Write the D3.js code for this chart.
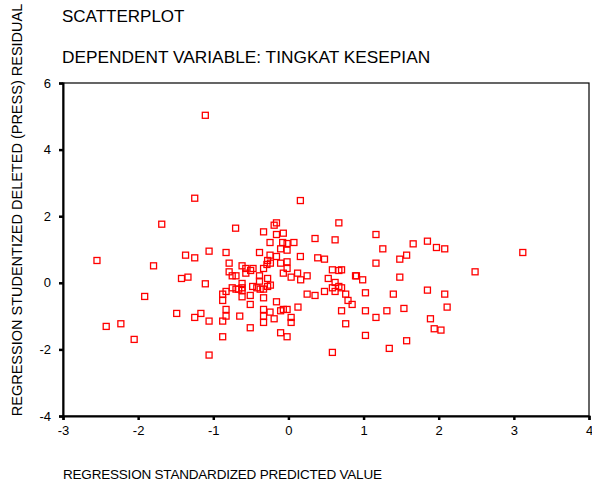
<!DOCTYPE html>
<html>
<head>
<meta charset="utf-8">
<script src="https://cdn.jsdelivr.net/npm/d3@7"></script>
<style>
	body { margin: 0; background: #fff; }
	text { font-family: "Liberation Sans", Arial, sans-serif; fill: #000; }
</style>
</head>
<body>
<div id="plot"><svg></svg></div>
<script>
var titleText = "SCATTERPLOT";
var subtitleText = "DEPENDENT VARIABLE: TINGKAT KESEPIAN";
var xLabelText = "REGRESSION STANDARDIZED PREDICTED VALUE";
var yLabelText = "REGRESSION STUDENTIZED DELETED (PRESS)  RESIDUAL";

var xTicks = [-3, -2, -1, 0, 1, 2, 3, 4];
var yTicks = [-4, -2, 0, 2, 4, 6];

// standardized predicted value
var predicted = [
	-1.106, -1.247, 0.159, -1.686, -0.703, -0.19, -0.159, 0.671, -0.331, -0.159,
	-0.068, 1.165, 0.354, 0.621, -0.245, -0.077, -0.018, 0.073, 1.85, 1.66,
	1.97, 2.08, 1.256, -0.104, -0.018, -2.548, -1.056, -0.83, -0.385, -1.369,
	-1.247, -0.245, -0.159, 0.159, 0.39, 0.48, 1.482, 1.573, 3.119, -1.795,
	-0.789, -0.617, -0.277, -0.24, -0.286, -0.104, -0.018, 1.165, -0.567, -0.471,
	-0.503, -0.567, -0.331, -0.018, -0.789, -0.068, 0.122, 0.585, 0.671, 0.707,
	2.484, -0.748, -0.698, -0.385, 0.036, 0.163, 0.249, 0.893, 0.905, 0.988,
	0.53, 1.482, -1.423, -1.337, -0.277, -1.106, -0.617, -0.385, 0.621, -0.476,
	-0.421, -0.376, -0.331, -0.277, -0.24, -0.748, -0.698, -0.662, -0.617, -0.617,
	-0.83, -0.875, -0.875, -0.617, -0.508, -0.331, 0.585, 0.671, 0.707, 0.48,
	0.621, 0.249, 0.354, 0.762, 1.025, 1.396, 1.85, 2.08, -1.913, -0.159,
	0.793, 0.848, -0.508, 0.127, 2.112, 1.537, -0.83, -0.331, -0.245, -0.104,
	-0.068, -0.018, 0.707, 1.025, 1.31, -1.487, -1.165, -1.247, -0.83, -0.648,
	-0.331, -0.19, 0.036, 1.165, 1.89, -1.056, -0.875, -0.331, 0.036, 0.762,
	-2.23, -2.425, -0.508, 1.94, 2.03, -2.053, -0.104, -0.018, 1.025, -0.875,
	1.573, 1.342, 0.585, -1.056
];

// studentized deleted residual
var residual = [
	5.03, 2.54, 2.47, 1.76, 1.64, 1.73, 1.80, 1.80, 1.53, 1.45,
	1.49, 1.45, 1.33, 1.29, 1.21, 1.21, 1.18, 1.21, 1.25, 1.17,
	1.06, 1.02, 1.02, 1.02, 0.98, 0.67, 0.95, 0.91, 0.91, 0.83,
	0.75, 0.83, 0.79, 0.79, 0.75, 0.71, 0.71, 0.83, 0.91, 0.51,
	0.59, 0.51, 0.67, 0.59, 0.55, 0.59, 0.63, 0.59, 0.43, 0.43,
	0.37, 0.29, 0.43, 0.43, 0.33, 0.29, 0.29, 0.39, 0.37, 0.39,
	0.33, 0.21, 0.21, 0.21, 0.17, 0.09, 0.21, 0.21, 0.21, 0.09,
	0.13, 0.17, 0.13, 0.17, 0.13, -0.03, -0.02, 0.05, 0.01, -0.11,
	-0.15, -0.19, -0.19, -0.11, -0.07, -0.15, -0.19, -0.19, -0.15, -0.23,
	-0.26, -0.34, -0.53, -0.42, -0.38, -0.45, -0.15, -0.11, -0.15, -0.26,
	-0.26, -0.34, -0.38, -0.34, -0.30, -0.34, -0.22, -0.34, -0.41, -0.57,
	-0.53, -0.65, -0.65, -0.73, -0.73, -0.77, -0.80, -0.80, -0.88, -0.84,
	-0.80, -0.80, -0.84, -0.84, -0.84, -0.92, -0.92, -1.04, -1.00, -1.00,
	-1.00, -1.08, -1.04, -1.04, -1.08, -1.15, -1.15, -1.19, -1.19, -1.23,
	-1.23, -1.31, -1.35, -1.38, -1.42, -1.70, -1.50, -1.62, -1.58, -1.62,
	-1.74, -1.97, -2.09, -2.17
];

var chartWidth = 592, chartHeight = 490;
var plotLeft = 63, plotRight = 589, plotTop = 83, plotBottom = 416;

var svg = d3.select("#plot").select("svg")
	.attr("width", chartWidth)
	.attr("height", chartHeight);

var x = d3.scaleLinear()
	.domain([-3, 4])
	.range([plotLeft, plotRight]);
var y = d3.scaleLinear()
	.domain([-4, 6])
	.range([plotBottom, plotTop]);

// titles
svg.append("text")
	.attr("x", 62)
	.attr("y", 22)
	.style("font-size", "17px")
	.text(titleText);
svg.append("text")
	.attr("x", 62)
	.attr("y", 63)
	.style("font-size", "17.3px")
	.text(subtitleText);

// frame
svg.append("rect")
	.attr("x", plotLeft)
	.attr("y", plotTop)
	.attr("width", plotRight - plotLeft)
	.attr("height", plotBottom - plotTop)
	.style("fill", "none")
	.style("stroke", "#000")
	.style("stroke-width", 1.2);

// axes
var xAxis = d3.axisBottom(x)
	.tickValues(xTicks)
	.tickSize(4)
	.tickPadding(6)
	.tickFormat(function(d) { return String(d); });
var yAxis = d3.axisLeft(y)
	.tickValues(yTicks)
	.tickSize(4)
	.tickPadding(8)
	.tickFormat(function(d) { return String(d); });

var gx = svg.append("g")
	.attr("transform", "translate(0," + plotBottom + ")")
	.call(xAxis);
var gy = svg.append("g")
	.attr("transform", "translate(" + plotLeft + ",0)")
	.call(yAxis);

[gx, gy].forEach(function(g)
{
	g.select(".domain")
		.style("stroke", "#000")
		.style("stroke-width", 2);
	g.selectAll(".tick line")
		.style("stroke", "#000")
		.style("stroke-width", 2.5);
	g.selectAll(".tick text")
		.style("font-family", "'Liberation Sans', Arial, sans-serif")
		.style("font-size", "13px")
		.style("fill", "#000");
});

// axis labels
svg.append("text")
	.attr("x", 63)
	.attr("y", 479)
	.style("font-size", "13.5px")
	.style("letter-spacing", "-0.2px")
	.text(xLabelText);
svg.append("text")
	.attr("transform", "translate(22,210) rotate(-90)")
	.style("text-anchor", "middle")
	.style("font-size", "14.5px")
	.text(yLabelText);

// points
var pts = predicted.map(function(d, i) { return { x: d, y: residual[i] }; });

svg.selectAll(".pt")
	.data(pts)
	.enter()
	.append("rect")
	.attr("class", "pt")
	.attr("x", function(d) { return x(d.x) - 3; })
	.attr("y", function(d) { return y(d.y) - 3; })
	.attr("width", 6)
	.attr("height", 6)
	.style("fill", "none")
	.style("stroke", "#ff0000")
	.style("stroke-width", 1.3);
</script>
</body>
</html>
